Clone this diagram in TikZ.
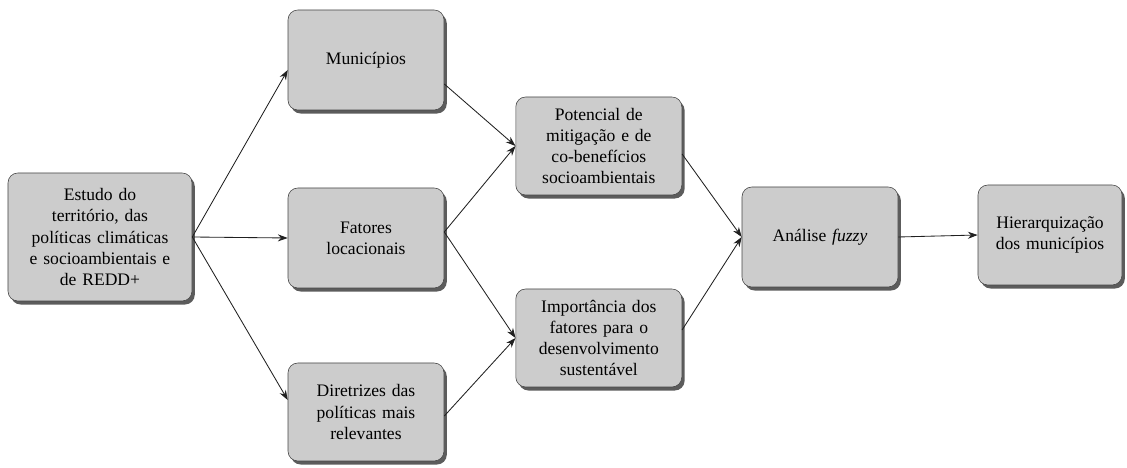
\documentclass[tikz,border=0pt]{standalone}
\usepackage{fontspec}
\setmainfont{Liberation Serif}
\usetikzlibrary{shadows,arrows.meta}

\tikzset{
  etapa/.style={draw=gray!55!black, line width=0.4pt, fill=gray!40, rounded corners=7pt, align=center,
    drop shadow={opacity=0.85, fill=gray!50!black, shadow xshift=2pt, shadow yshift=-2.5pt},
    inner sep=2pt, font=\fontsize{12.5}{15}\selectfont},
  seta/.style={-{Stealth[length=7pt,width=5pt]}, draw=gray!25!black, line width=0.6pt}
}

\begin{document}
\begin{tikzpicture}
  \useasboundingbox (0,0) rectangle (28.175,11.7);

  % coluna 1
  \node[etapa, minimum width=4.6cm, minimum height=3.2cm, text width=4.3cm] (estudo) at (2.5,5.775)
    {Estudo do\\ territ\'orio, das\\ pol\'iticas clim\'aticas\\ e socioambientais e\\ de REDD+};

  % coluna 2
  \node[etapa, minimum width=3.9cm, minimum height=2.5cm, text width=3.6cm] (munic) at (9.15,10.2)
    {Munic\'ipios};
  \node[etapa, minimum width=3.9cm, minimum height=2.5cm, text width=3.6cm] (fatores) at (9.15,5.75)
    {Fatores\\ locacionais};
  \node[etapa, minimum width=3.9cm, minimum height=2.45cm, text width=3.6cm] (diretr) at (9.15,1.4)
    {Diretrizes das\\ pol\'iticas mais\\ relevantes};

  % coluna 3
  \node[etapa, minimum width=4.15cm, minimum height=2.45cm, text width=3.9cm] (potenc) at (14.97,8.05)
    {Potencial de\\ mitiga\c{c}\~ao e de\\ co-benef\'icios\\ socioambientais};
  \node[etapa, minimum width=4.15cm, minimum height=2.45cm, text width=3.9cm] (import) at (14.97,3.25)
    {Import\^ancia dos\\ fatores para o\\ desenvolvimento\\ sustent\'avel};

  % coluna 4 e 5
  \node[etapa, minimum width=3.9cm, minimum height=2.5cm, text width=3.6cm] (analise) at (20.5,5.775)
    {An\'alise \textit{fuzzy}};
  \node[etapa, minimum width=3.6cm, minimum height=2.5cm, text width=3.4cm] (hierarq) at (26.25,5.825)
    {Hierarquiza\c{c}\~ao\\ dos munic\'ipios};

  \draw[seta] (estudo.east) -- ([yshift=-0.25cm]munic.west);
  \draw[seta] (estudo.east) -- (fatores.west);
  \draw[seta] (estudo.east) -- ([yshift=0.3cm]diretr.west);
  \draw[seta] ([yshift=-0.6cm]munic.east) -- (potenc.west);
  \draw[seta] ([yshift=0.15cm]fatores.east) -- (potenc.west);
  \draw[seta] ([yshift=0.15cm]fatores.east) -- (import.west);
  \draw[seta] ([yshift=-0.1cm]diretr.east) -- (import.west);
  \draw[seta] ([yshift=-0.2cm]potenc.east) -- (analise.west);
  \draw[seta] ([yshift=0.2cm]import.east) -- (analise.west);
  \draw[seta] (analise.east) -- (hierarq.west);

\end{tikzpicture}
\end{document}
